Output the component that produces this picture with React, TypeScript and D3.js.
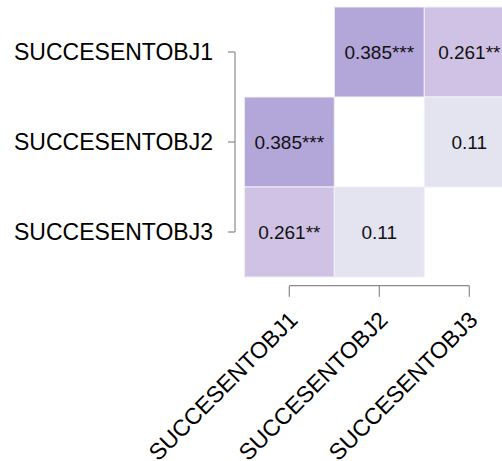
import React from "react";
import * as d3 from "d3";

const vars = ["SUCCESENTOBJ1", "SUCCESENTOBJ2", "SUCCESENTOBJ3"];
const corr = [
  [1, 0.385, 0.261],
  [0.385, 1, 0.11],
  [0.261, 0.11, 1],
];
const stars = [
  ["", "***", "**"],
  ["***", "", ""],
  ["**", "", ""],
];

const W = 502, H = 461;

export default function App() {
  const x = d3.scaleBand<string>().domain(vars).range([244.3, 514.3]);
  const y = d3.scaleBand<string>().domain(vars).range([7, 277]);
  const color = d3.scaleLinear<string>()
    .domain([0.11, 0.261, 0.385])
    .range(["#e4e3f0", "#d0c2e4", "#b3a6d9"]);
  const bw = x.bandwidth();
  const cx = (v: string) => (x(v) as number) + bw / 2;
  const cy = (v: string) => (y(v) as number) + bw / 2;
  const font = "'Liberation Sans', Arial, sans-serif";
  const axisColor = "#8a8a8a";
  const yAxisX = 235;
  const xAxisY = 285.7;

  return (
    <svg width={W} height={H} style={{ position: "absolute", left: 0, top: 0 }} fontFamily={font}>
      <rect width={W} height={H} fill="#fff" />
      {vars.map((r, i) =>
        vars.map((c, j) =>
          i === j ? null : (
            <g key={`${i}-${j}`}>
              <rect x={x(c)} y={y(r)} width={bw} height={bw}
                fill={color(corr[i][j])} stroke="#f2f0f8" strokeWidth={1} />
              <text x={cx(c)} y={cy(r)} dy="0.35em" textAnchor="middle" fontSize={19} fill="#111">
                {String(corr[i][j]) + stars[i][j]}
              </text>
            </g>
          )
        )
      )}
      {/* y axis */}
      <line x1={yAxisX} x2={yAxisX} y1={cy(vars[0])} y2={cy(vars[2])} stroke={axisColor} strokeWidth={1.2} />
      {vars.map((v) => (
        <g key={"yt" + v}>
          <line x1={yAxisX - 7} x2={yAxisX} y1={cy(v)} y2={cy(v)} stroke={axisColor} strokeWidth={1.2} />
          <text x={213} y={cy(v)} dy="0.35em" textAnchor="end" fontSize={23} fill="#000">{v}</text>
        </g>
      ))}
      {/* x axis */}
      <line x1={cx(vars[0])} x2={cx(vars[2])} y1={xAxisY} y2={xAxisY} stroke={axisColor} strokeWidth={1.2} />
      {vars.map((v) => (
        <g key={"xt" + v}>
          <line x1={cx(v)} x2={cx(v)} y1={xAxisY} y2={xAxisY + 11} stroke={axisColor} strokeWidth={1.2} />
          <text transform={`translate(${cx(v) + 4},${xAxisY + 30}) rotate(-45)`} dy="0.35em"
            textAnchor="end" fontSize={23} fill="#000">{v}</text>
        </g>
      ))}
    </svg>
  );
}
